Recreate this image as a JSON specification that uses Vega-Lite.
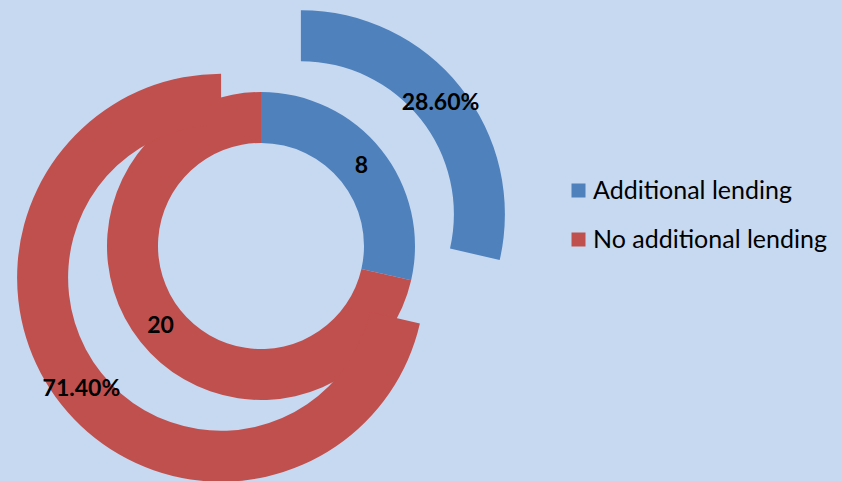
{
  "$schema": "https://vega.github.io/schema/vega-lite/v6.json",
  "width": 522,
  "height": 492,
  "padding": {"left": 0, "top": 0, "right": 40, "bottom": 0},
  "background": "#C6D9F1",
  "config": {"view": {"stroke": null}, "font": "Lato"},
  "datasets": {
    "inner": [
      {"category": "Additional lending", "count": 8},
      {"category": "No additional lending", "count": 20}
    ],
    "outer": [
      {"category": "Additional lending", "pct": 28.6, "label": "28.60%"},
      {"category": "No additional lending", "pct": 71.4, "label": "71.40%"}
    ]
  },
  "layer": [
    {
      "data": {"name": "inner"},
      "encoding": {
        "theta": {"field": "count", "type": "quantitative", "stack": true},
        "order": {"field": "category", "type": "ordinal", "sort": "ascending"}
      },
      "layer": [
        {
          "mark": {"type": "arc", "radius": 154, "radius2": 103},
          "encoding": {
            "color": {
              "field": "category",
              "type": "nominal",
              "scale": {"domain": ["Additional lending", "No additional lending"], "range": ["#4F81BD", "#C0504D"]},
              "legend": {
                "orient": "none",
                "legendX": 566,
                "legendY": 178,
                "title": null,
                "symbolType": "square",
                "symbolSize": 196,
                "symbolStrokeWidth": 0,
                "labelFont": "Lato",
                "labelFontSize": 25,
                "labelColor": "#000000",
                "labelOffset": 2,
                "labelLimit": 0,
                "rowPadding": 23,
                "padding": 0
              }
            }
          }
        },
        {
          "mark": {"type": "text", "radius": 128.5, "fontSize": 23, "fontWeight": "bold", "color": "#000000", "font": "Lato"},
          "encoding": {
            "detail": {"field": "category", "type": "nominal"},
            "text": {"field": "count", "type": "quantitative"}
          }
        }
      ]
    },
    {
      "data": {"name": "outer"},
      "encoding": {
        "theta": {"field": "pct", "type": "quantitative", "stack": true},
        "order": {"field": "category", "type": "ordinal", "sort": "ascending"}
      },
      "layer": [
        {
          "mark": {
            "type": "arc",
            "radius": 204,
            "radius2": 153,
            "xOffset": {"expr": "51*sin(PI*(datum.pct_start+datum.pct_end)/100)"},
            "yOffset": {"expr": "-51*cos(PI*(datum.pct_start+datum.pct_end)/100)"}
          },
          "encoding": {
            "color": {"field": "category", "type": "nominal"}
          }
        },
        {
          "mark": {
            "type": "text",
            "radius": 178.5,
            "fontSize": 23,
            "fontWeight": "bold",
            "color": "#000000",
            "font": "Lato",
            "xOffset": {"expr": "51*sin(PI*(datum.pct_start+datum.pct_end)/100)"},
            "yOffset": {"expr": "-51*cos(PI*(datum.pct_start+datum.pct_end)/100)"}
          },
          "encoding": {
            "detail": {"field": "category", "type": "nominal"},
            "text": {"field": "label", "type": "nominal"}
          }
        }
      ]
    }
  ],
  "resolve": {"scale": {"theta": "independent"}}
}
